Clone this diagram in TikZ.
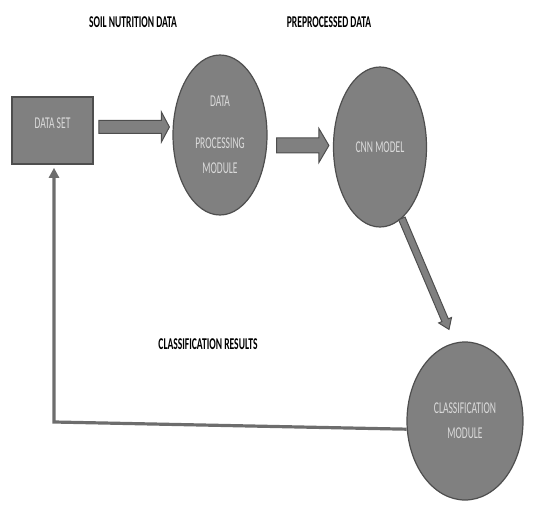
\documentclass[tikz,border=0pt]{standalone}
\usepackage{fontspec}
\setmainfont{Carlito}
\usetikzlibrary{calc,arrows.meta,shapes.geometric}

\begin{document}
\begin{tikzpicture}[x=1pt,y=1pt,>={Triangle[width=10pt,length=10pt]}]

\definecolor{boxgray}{HTML}{808080}
\definecolor{edgegray}{HTML}{4E4E4E}
\definecolor{txtgray}{HTML}{DADADA}

\tikzset{
	blob/.style={ellipse,fill=boxgray,draw=edgegray,line width=1.2pt,text=txtgray,
		align=center,inner sep=0pt,font=\fontsize{16.5}{25}\selectfont},
	databox/.style={rectangle,fill=boxgray,draw=edgegray,line width=1.6pt,text=txtgray,
		minimum width=81pt,minimum height=67pt,text depth=15pt,font=\fontsize{16.5}{20}\selectfont},
	heading/.style={font=\bfseries\fontsize{16.5}{20}\selectfont},
	fback/.style={draw=boxgray!85!black,line width=3.2pt}
}

\def\sq#1{\scalebox{0.58}[1]{#1}}

% from, to, shaft half width, head half width, head length
\def\blockarrow#1#2#3#4#5{
	\filldraw[fill=boxgray,draw=edgegray,line width=1pt]
		let \p1=(#1), \p2=(#2), \n1={atan2(\y2-\y1,\x2-\x1)} in
		($(\p1)+(\n1+90:#3)$) -- ($(\p2)+(\n1+180:#5)+(\n1+90:#3)$)
		-- ($(\p2)+(\n1+180:#5)+(\n1+90:#4)$) -- (\p2)
		-- ($(\p2)+(\n1+180:#5)+(\n1-90:#4)$) -- ($(\p2)+(\n1+180:#5)+(\n1-90:#3)$)
		-- ($(\p1)+(\n1-90:#3)$) -- cycle;
}

\useasboundingbox (0,0) rectangle (551,504);

\node[databox] (ds) at (52.5,373.5) {\sq{DATA SET}};
\node[blob,minimum width=94pt,minimum height=160pt] (dpm) at (220,369)
	{\sq{DATA}\\[17pt]\sq{PROCESSING}\\\sq{MODULE}};
\node[blob,minimum width=93pt,minimum height=160pt] (cnn) at (380,357) {\sq{CNN MODEL}};
\node[blob,minimum width=116pt,minimum height=158pt] (cm) at (465,83)
	{\sq{CLASSIFICATION}\\\sq{MODULE}};

\node[heading] (soil) at (133,482) {\sq{SOIL NUTRITION DATA}};
\node[heading] (prep) at (329,482) {\sq{PREPROCESSED DATA}};
\node[heading] (cres) at (208,160) {\sq{CLASSIFICATION RESULTS}};

\coordinate (a1s) at ($(ds.east)+(5,3.5)$);
\coordinate (a1e) at ($(dpm.west)+(-3,8)$);
\coordinate (a2s) at ($(dpm.east)+(9,-10.5)$);
\coordinate (a2e) at ($(cnn.west)+(-4,1.5)$);
\coordinate (a3e) at ($(cm.north)+(-16,12)$);

\blockarrow{a1s}{a1e}{6.5}{15}{8}
\blockarrow{a2s}{a2e}{7.5}{17}{10}
\blockarrow{cnn.-73}{a3e}{3.5}{7}{10}

\coordinate (fb) at (54,82);
\draw[fback,->,shorten >=3pt] (cm.188) -- (fb) -- (fb |- ds.south);

\end{tikzpicture}
\end{document}
